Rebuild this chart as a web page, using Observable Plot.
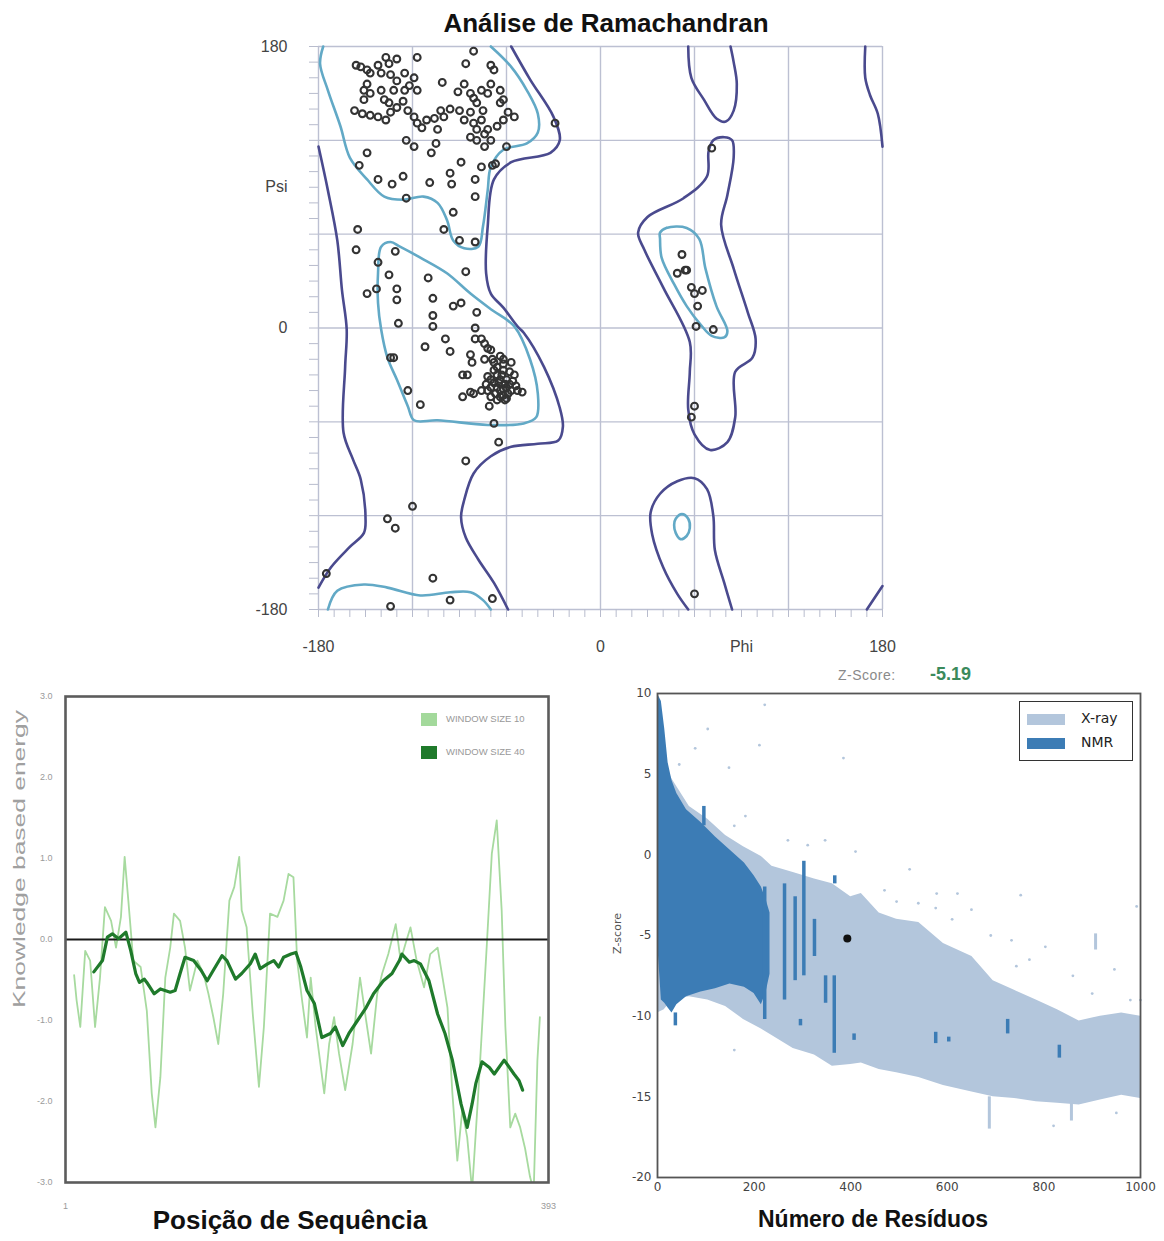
<!DOCTYPE html>
<html><head><meta charset="utf-8">
<script src="https://cdn.jsdelivr.net/npm/d3@7"></script>
<script src="https://cdn.jsdelivr.net/npm/@observablehq/plot@0.6"></script>
<style>
body{margin:0;background:#fff;}
#root{position:relative;width:1164px;height:1241px;overflow:hidden;font-family:"Liberation Sans",Arial,sans-serif;}
.t{position:absolute;white-space:nowrap;}
</style></head><body><div id="root"></div>
<script>
// ---------------- Ramachandran data (phi, psi in degrees) ----------------
const ramaPoints = [
[-81,177],[-137,173],[-130,172],[-117,173],[-156,168],[-153,167],[-149,165],[-147,163],[-142,168],[-135,169],[-140,163],[-134,162],[-130,158],[-125,163],[-119,160],[-122,155],[-149,156],[-151,152],[-147,150],[-140,152],[-138,146],[-135,144],[-151,146],[-157,139],[-152,137],[-147,136],[-142,135],[-137,133],[-134,138],[-130,141],[-126,145],[-123,139],[-119,135],[-117,131],[-114,128],[-111,133],[-106,134],[-104,127],[-102,139],[-100,135],[-96,140],[-90,139],[-87,133],[-83,138],[-81,131],[-79,127],[-76,133],[-74,124],[-83,122],[-79,120],[-74,116],[-70,120],[-72,127],[-66,129],[-62,133],[-59,138],[-55,135],[-64,144],[-62,146],[-64,152],[-70,156],[-68,165],[-70,168],[-86,169],[-87,156],[-91,151],[-83,150],[-81,147],[-76,152],[-72,150],[-79,144],[-75,139],[-101,157],[-117,152],[-125,152],[-132,152],
[-149,112],[-154,104],[-142,95],[-133,92],[-126,97],[-124,120],[-119,116],[-108,112],[-105,118],[-109,93],[-96,99],[-95,92],[-89,106],[-80,95],[-76,103],[-69,104],[-67,105],[-80,84],[-60,116],[-94,74],[-100,63],[-90,56],[-80,55],[-124,83],
[-155,63],[-156,50],[-131,49],[-142,42],[-135,34],[-110,32],[-86,36],[-130,25],[-130,18],[-149,22],[-143,25],[-107,19],[-94,14],[-89,16],[-79,10],[-107,8],[-129,3],[-107,1],[-80,0],
[-112,-12],[-99,-7],[-96,-15],[-80,-7],[-76,-7],[-74,-10],[-72,-13],[-70,-14],[-83,-17],[-82,-22],[-74,-20],[-69,-20],[-64,-18],[-62,-23],[-66,-25],[-68,-27],[-62,-27],[-72,-31],[-70,-33],[-68,-35],[-66,-38],[-64,-33],[-60,-33],[-62,-39],[-57,-40],[-72,-40],[-76,-40],[-83,-41],[-88,-30],[-85,-30],[-88,-44],[-81,-42],[-70,-44],[-64,-44],[-60,-45],[-53,-40],[-50,-41],[-71,-50],[-61,-46],[-132,-19],[-134,-19],[-123,-40],[-115,-49],[-68,-61],[-65,-73],[-86,-85],[-120,-114],[-136,-122],[-131,-128],[-175,-157],[-107,-160],[-96,-174],[-69,-173],[-134,-178],
[-63,-30],[-58,-28],[-66,-30],[-61,-36],[-56,-34],[-64,-40],[-59,-42],[-67,-42],[-62,-20],[-57,-22],[-70,-38],[-65,-35],[-60,-38],[-55,-30],[-68,-22],[-62,-43],[-58,-36],[-66,-46],[-73,-36],[-54,-37],
[-29,131],
[71,115],[52,47],[55,37],[49,35],[54,37],[58,26],[65,24],[60,22],[62,14],[61,1],[72,-1],[60,-50],[58,-57],[60,-170]
];
// allowed-region contours (dark)
const darkLeftEdge = [[-180,116],[-174,88],[-168,56],[-165,24],[-162,-1],[-163,-25],[-164,-67],[-158,-84],[-153,-97],[-150,-121],[-151,-131],[-160,-140],[-172,-153],[-180,-166]];
const darkBeta = [[-57,180],[-45,159],[-30,135],[-26,120],[-32,112],[-57,106],[-68,95],[-72,65],[-73,35],[-70,22],[-62,13],[-53,1],[-49,-3],[-36,-25],[-26,-51],[-24,-63],[-27,-72],[-40,-74],[-57,-76],[-70,-82],[-81,-93],[-87,-110],[-89,-121],[-86,-134],[-78,-148],[-68,-163],[-59,-180]];
const darkTopRight = [[56,180],[58,160],[66,146],[74,134],[80,132],[85,139],[87,156],[85,170],[83,180]];
const darkBottomRight = [[56,-180],[49,-170],[40,-153],[33,-132],[32,-118],[38,-106],[49,-98],[60,-96],[68,-103],[72,-120],[73,-142],[79,-163],[84,-180]];
const darkLeftHanded = [[72,120],[69,113],[68,97],[53,83],[30,71],[24,61],[28,50],[40,26],[57,-9],[57,-28],[56,-52],[60,-68],[70,-78],[81,-73],[86,-57],[86,-28],[97,-19],[99,-7],[94,10],[85,38],[77,66],[81,85],[85,109],[84,120],[79,122]];
const darkFarRightTop = [[169,180],[169,160],[172,149],[177,137],[180,116]];
const darkFarRightBottom = [[170,-180],[180,-165]];
// favoured-region contours (light blue)
const lightBeta = [[-177,180],[-179,169],[-174,152],[-166,129],[-160,109],[-149,95],[-138,84],[-126,82],[-113,84],[-104,80],[-98,69],[-94,56],[-87,51],[-78,52],[-75,65],[-72,88],[-70,103],[-62,114],[-47,118],[-40,125],[-40,137],[-47,152],[-57,167],[-70,180]];
const lightAlpha = [[-134,55],[-128,52],[-115,45],[-98,35],[-83,22],[-70,12],[-55,1],[-45,-20],[-40,-42],[-41,-57],[-49,-61],[-72,-62],[-104,-59],[-119,-59],[-123,-50],[-130,-33],[-136,-19],[-140,-1],[-142,16],[-142,35],[-140,52]];
const lightBottom = [[-174,-180],[-168,-168],[-151,-164],[-136,-166],[-115,-171],[-96,-169],[-83,-169],[-75,-174],[-70,-180]];
const lightLeftHanded = [[38,61],[42,64],[55,64],[63,57],[67,38],[74,14],[81,-2],[79,-6],[71,-5],[64,2],[55,14],[47,28],[39,45],[38,57]];
const lightSmall = [[48,-122],[52,-119],[56,-122],[57,-128],[55,-133],[51,-135],[48,-131],[47,-126]];
const gridDeg = [-180,-120,-60,0,60,120,180];
const minorDeg = d3.range(-180,181,10);
const psiTicks = [180,90,0,-180], psiText = ["180","Psi","0","-180"];
const phiTicks = [-180,0,90,180], phiText = ["-180","0","Phi","180"];

// ---------------- Knowledge-based energy ----------------
const win40Res = [24,31,35,39,44,50,54,58,61,65,67,73,78,86,90,94,98,105,111,116,121,128,132,139,144,151,155,159,165,170,174,178,184,188,192,197,203,209,216,220,226,231,238,245,251,259,266,272,274,280,284,289,296,303,309,315,322,327,331,334,339,345,349,357,365,369,372];
const win40Val = [-0.40,-0.26,0.03,0.07,0.01,0.09,-0.14,-0.42,-0.53,-0.49,-0.53,-0.67,-0.61,-0.65,-0.63,-0.42,-0.22,-0.26,-0.38,-0.51,-0.38,-0.20,-0.26,-0.49,-0.42,-0.30,-0.18,-0.36,-0.30,-0.26,-0.34,-0.22,-0.18,-0.16,-0.34,-0.63,-0.79,-1.21,-1.16,-1.08,-1.31,-1.16,-1.00,-0.84,-0.67,-0.51,-0.42,-0.26,-0.18,-0.28,-0.26,-0.30,-0.51,-0.92,-1.16,-1.49,-2.03,-2.32,-2.03,-1.78,-1.51,-1.58,-1.66,-1.49,-1.66,-1.74,-1.86];
const win10Res = [8,10,13,17,21,25,29,33,38,42,46,49,52,56,62,67,71,74,78,82,86,89,94,98,102,108,113,117,121,125,129,134,138,142,144,148,153,158,162,167,173,178,182,186,189,193,197,200,204,211,215,219,223,228,234,240,245,249,254,258,263,269,273,277,281,286,292,297,303,307,311,315,319,323,327,331,336,343,347,351,355,358,362,366,370,374,378,381,384,386];
const win10Val = [-0.44,-0.75,-1.08,-0.14,-0.26,-1.08,-0.47,0.40,0.23,-0.10,0.28,1.02,0.48,-0.26,-0.34,-0.88,-1.90,-2.32,-1.70,-0.47,-0.10,0.32,0.23,-0.10,-0.63,-0.26,-0.42,-0.67,-0.96,-1.29,-0.67,0.48,0.65,1.02,0.36,0.15,-0.92,-1.82,-1.08,0.32,0.28,0.48,0.81,0.77,-0.26,-0.75,-1.21,-0.47,-1.08,-1.90,-1.29,-0.96,-1.41,-1.86,-1.29,-0.47,-1.00,-1.41,-0.67,-0.42,-0.18,0.19,-0.26,-0.05,0.15,-0.26,-0.59,-0.18,-0.10,-0.47,-0.84,-1.90,-2.73,-2.11,-2.44,-3.1,-1.90,-0.05,1.06,1.47,0.36,-1.08,-2.32,-2.15,-2.32,-2.58,-2.93,-3.1,-1.49,-0.96];
const energyTicks = [-3,-2,-1,0,1,2,3];
const seqTicks = [1,393];

// ---------------- Z-score vs number of residues ----------------
const xrayN     = [0,14,30,66,104,141,178,215,237,281,325,362,400,422,459,495,541,592,651,695,739,784,828,873,917,961,1000];
const xrayUpper = [10,5.7,4.7,3.0,2.2,1.2,0.5,-0.1,-0.7,-1.1,-1.5,-1.8,-2.6,-2.4,-3.6,-4.0,-4.2,-5.5,-6.3,-7.8,-8.4,-9.0,-9.6,-10.3,-10.0,-9.8,-10.0];
const xrayLower = [-9.8,-9.6,-9.0,-8.8,-9.0,-9.4,-10.2,-10.8,-11.2,-12.0,-12.4,-13.1,-13.0,-12.9,-13.3,-13.5,-13.8,-14.3,-14.7,-15.0,-15.1,-15.3,-15.4,-15.5,-15.2,-14.9,-15.1];
const nmrN     = [0,8,15,22,30,40,60,90,120,150,180,200,215,225,233];
const nmrUpper = [10,9.5,7.8,5.7,4.6,3.8,2.8,2.0,1.1,0.3,-0.5,-1.3,-2.0,-2.8,-3.6];
const nmrLower = [-5.3,-9.0,-9.2,-9.5,-9.8,-9.3,-8.8,-8.5,-8.3,-8.0,-8.2,-8.6,-9.3,-8.5,-7.4];
const nmrStreaks = [[96,3.0,1.8],[222,-2,-10.2],[263,-1.8,-9.0],[285,-2.6,-7.8],[303,-0.4,-7.5],[325,-4.0,-6.3],[348,-7.5,-9.2],[366,-7.5,-12.3],[296,-10.2,-10.6],[407,-11.1,-11.5],[576,-11.0,-11.7],[603,-11.3,-11.6],[725,-10.2,-11.1],[832,-11.8,-12.6],[37,-9.8,-10.6],[367,-1.3,-1.8]];
const xrayStreaks = [[907,-4.9,-5.9],[687,-15,-17],[857,-15.2,-16.5]];
const xrayOutliers = [[222,9.3],[104,7.8],[78,6.6],[211,6.8],[385,6.0],[45,5.6],[148,5.4],[182,2.4],[159,1.8],[270,0.9],[311,0.6],[347,0.9],[410,0.2],[522,-0.9],[578,-2.4],[752,-2.5],[650,-3.4],[803,-5.7],[992,-3.2],[946,-7.1],[979,-9.0],[159,-12.1],[576,-3.3],[495,-2.9],[621,-2.4],[733,-5.3],[770,-6.5],[743,-6.9],[470,-2.2],[540,-3.0],[610,-4.0],[690,-5.0],[860,-7.5],[900,-8.6],[950,-16],[820,-16.8],[1000,-9.0]];
const proteinScore = [[393,-5.19]];
const zxTicks = [0,200,400,600,800,1000];
const zyTicks = [-20,-15,-10,-5,0,5,10];

const root = document.getElementById("root");
function place(el, left, top){ el.style.position="absolute"; el.style.left=left+"px"; el.style.top=top+"px"; root.appendChild(el); }
function text(str, css){ const d=document.createElement("div"); d.className="t"; d.textContent=str; d.style.cssText+=css; root.appendChild(d); return d; }

// ---------------- Panel 1 ----------------
const DARK = "#4a4a8e", LIGHT = "#62a9c6";
const P = d => d[0], Q = d => d[1];
const cl = (data, stroke, closed) => Plot.line(data, {x: P, y: Q, stroke, strokeWidth: 2.6, curve: closed ? "catmull-rom-closed" : "catmull-rom"});
const rama = Plot.plot({
  width: 660, height: 640, marginLeft: 78, marginRight: 18, marginTop: 16, marginBottom: 61,
  x: {domain: [-180,180]}, y: {domain: [-180,180]},
  style: {fontFamily: "Liberation Sans, Arial", fontSize: "16px", color: "#444", background: "transparent", overflow: "visible"},
  marks: [
    Plot.ruleX(gridDeg, {stroke: "#bcc0d2", strokeWidth: 1.4}),
    Plot.ruleY(gridDeg, {stroke: "#bcc0d2", strokeWidth: 1.4}),
    Plot.axisY(minorDeg, {tickSize: 9, tickFormat: () => "", stroke: "#b8bccd", label: null}),
    Plot.axisX(minorDeg, {tickSize: 8, tickFormat: () => "", stroke: "#b8bccd", label: null}),
    Plot.axisY(psiTicks, {tickSize: 0, tickPadding: 31, tickFormat: d => psiText[psiTicks.indexOf(d)], fontSize: 16, fill: "#444", label: null}),
    Plot.axisX(phiTicks, {tickSize: 0, tickPadding: 31, tickFormat: d => phiText[phiTicks.indexOf(d)], fontSize: 16, fill: "#444", label: null}),
    cl(darkLeftEdge, DARK), cl(darkBeta, DARK), cl(darkTopRight, DARK), cl(darkBottomRight, DARK),
    cl(darkLeftHanded, DARK, true), cl(darkFarRightTop, DARK), cl(darkFarRightBottom, DARK),
    cl(lightBeta, LIGHT), cl(lightAlpha, LIGHT, true), cl(lightBottom, LIGHT), cl(lightLeftHanded, LIGHT, true), cl(lightSmall, LIGHT, true),
    Plot.dot(ramaPoints, {x: P, y: Q, r: 3.4, stroke: "#333", strokeWidth: 2.1, fill: "none"})
  ]
});
place(rama, 240, 30);
text("Análise de Ramachandran", "left:306px;width:600px;text-align:center;top:8px;font-weight:bold;font-size:26px;color:#111;");

// ---------------- Panel 2 ----------------
const win40 = win40Res.map((r,i) => ({res: r, val: win40Val[i]}));
const win10 = win10Res.map((r,i) => ({res: r, val: win10Val[i]}));
const energy = Plot.plot({
  width: 580, height: 540, marginLeft: 65, marginRight: 32, marginTop: 16, marginBottom: 38,
  x: {domain: [1,393]}, y: {domain: [-3,3]},
  style: {fontFamily: "Liberation Sans, Arial", background: "transparent", overflow: "visible"},
  marks: [
    Plot.axisY(energyTicks, {tickSize: 0, tickPadding: 13, tickFormat: d => d.toFixed(1), fontSize: 9, fill: "#9a9a9a", label: null}),
    Plot.axisX(seqTicks, {tickSize: 0, tickPadding: 20, fontSize: 9, fill: "#9a9a9a", label: null}),
    Plot.line(win10, {x: "res", y: "val", stroke: "#a7da9f", strokeWidth: 1.8, clip: true}),
    Plot.ruleY([0], {stroke: "#1a1a1a", strokeWidth: 2.2}),
    Plot.line(win40, {x: "res", y: "val", stroke: "#1f7a2b", strokeWidth: 3.2, strokeLinejoin: "round"}),
    Plot.frame({stroke: "#5c5c5c", strokeWidth: 2.6})
  ]
});
place(energy, 0, 680);
text("Knowledge based energy", "left:-130px;top:850px;width:300px;text-align:center;font-size:16px;color:#a0a0a0;transform:rotate(-90deg) scaleX(1.65);");
// legend
const sw1 = document.createElement("div"); sw1.style.cssText="background:#a3d99b;width:16px;height:13px;"; place(sw1, 421, 713);
const sw2 = document.createElement("div"); sw2.style.cssText="background:#1f7a2b;width:16px;height:13px;"; place(sw2, 421, 746);
text("WINDOW SIZE 10", "left:446px;top:713px;font-size:9.5px;color:#999;");
text("WINDOW SIZE 40", "left:446px;top:746px;font-size:9.5px;color:#999;");
text("Posição de Sequência", "left:90px;width:400px;text-align:center;top:1205px;font-weight:bold;font-size:26px;color:#111;");

// ---------------- Panel 3 ----------------
const xray = xrayN.map((n,i) => ({n, lo: xrayLower[i], hi: xrayUpper[i]}));
const nmr = nmrN.map((n,i) => ({n, lo: nmrLower[i], hi: nmrUpper[i]}));
const XRAY = "#b3c6dc", NMR = "#3c7cb5";
const zplot = Plot.plot({
  width: 574, height: 540, marginLeft: 67, marginRight: 24, marginTop: 13, marginBottom: 43,
  x: {domain: [0,1000]}, y: {domain: [-20,10]},
  style: {fontFamily: "DejaVu Sans", background: "transparent", overflow: "visible"},
  marks: [
    Plot.areaY(xray, {x: "n", y1: "lo", y2: "hi", fill: XRAY}),
    Plot.ruleX(xrayStreaks, {x: d => d[0], y1: d => d[1], y2: d => d[2], stroke: XRAY, strokeWidth: 3}),
    Plot.dot(xrayOutliers, {x: P, y: Q, r: 1.4, fill: XRAY}),
    Plot.areaY(nmr, {x: "n", y1: "lo", y2: "hi", fill: NMR}),
    Plot.ruleX(nmrStreaks, {x: d => d[0], y1: d => d[1], y2: d => d[2], stroke: NMR, strokeWidth: 3.5}),
    Plot.dot(proteinScore, {x: P, y: Q, r: 4, fill: "#111"}),
    Plot.axisX(zxTicks, {tickSize: 0, tickPadding: 5, tickFormat: d => String(d), fontSize: 12, fill: "#444", label: null}),
    Plot.axisY(zyTicks, {tickSize: 0, tickPadding: 6, tickFormat: d => String(d), fontSize: 12, fill: "#444", label: null}),
    Plot.frame({stroke: "#555", strokeWidth: 1.8})
  ]
});
place(zplot, 590, 680);
text("Z-score", "left:592px;top:927px;width:50px;text-align:center;font-family:'DejaVu Sans';font-size:11px;color:#555;transform:rotate(-90deg);");
text("Z-Score:", "left:838px;top:667px;font-size:14px;color:#8a8a8a;letter-spacing:0.5px;");
text("-5.19", "left:930px;top:664px;font-size:18px;font-weight:bold;color:#3b8a5c;");
const box = document.createElement("div"); box.style.cssText="width:114px;height:60px;border:1.5px solid #333;background:#fff;box-sizing:border-box;"; place(box, 1019, 701);
const s3 = document.createElement("div"); s3.style.cssText=`background:${XRAY};width:38px;height:11px;`; place(s3, 1027, 714);
const s4 = document.createElement("div"); s4.style.cssText=`background:${NMR};width:38px;height:11px;`; place(s4, 1027, 738);
text("X-ray", "left:1081px;top:710px;font-family:'DejaVu Sans';font-size:14px;color:#222;");
text("NMR", "left:1081px;top:734px;font-family:'DejaVu Sans';font-size:14px;color:#222;");
text("Número de Resíduos", "left:673px;width:400px;text-align:center;top:1206px;font-weight:bold;font-size:23px;color:#111;");
</script></body></html>
